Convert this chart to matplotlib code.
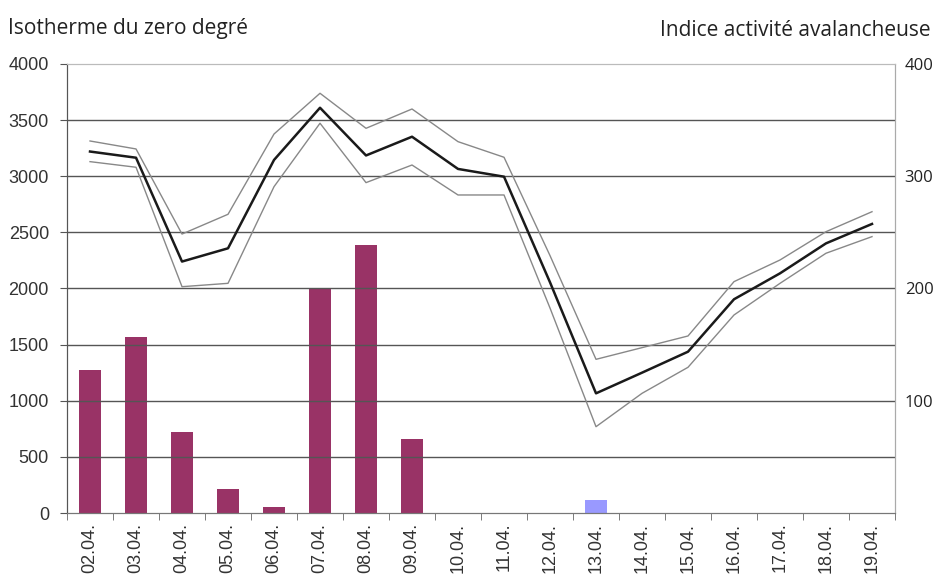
import matplotlib
matplotlib.use("Agg")
import matplotlib.pyplot as plt
import numpy as np

dates = ["02.04.", "03.04.", "04.04.", "05.04.", "06.04.", "07.04.", "08.04.", "09.04.",
         "10.04.", "11.04.", "12.04.", "13.04.", "14.04.", "15.04.", "16.04.", "17.04.",
         "18.04.", "19.04."]

# Isotherme du zéro degré (m) - central, upper and lower estimates
iso_mid = [3220, 3165, 2240, 2358, 3145, 3610, 3185, 3352, 3065, 2996,
           2055, 1066, 1250, 1437, 1904, 2135, 2402, 2575]
iso_high = [3314, 3243, 2485, 2661, 3376, 3739, 3427, 3599, 3308, 3169,
            2293, 1369, 1473, 1577, 2061, 2254, 2506, 2684]
iso_low = [3130, 3080, 2016, 2046, 2907, 3472, 2943, 3100, 2833, 2833,
           1826, 769, 1066, 1298, 1764, 2046, 2314, 2462]

# Indice activité avalancheuse
aval = [127, 157, 72, 21, 5.6, 200, 239, 66, 0, 0, 0, 0, 0, 0, 0, 0, 0, 0]
aval_blue = [0, 0, 0, 0, 0, 0, 0, 0, 0, 0, 0, 11.6, 0, 0, 0, 0, 0, 0]

left_ticks = [0, 500, 1000, 1500, 2000, 2500, 3000, 3500, 4000]
right_ticks = [100, 200, 300, 400]

fig = plt.figure(figsize=(9.36, 5.8), dpi=100)
ax = fig.add_axes([0.0716, 0.1155, 0.8846, 0.7742])
ax2 = ax.twinx()

x = np.arange(len(dates))

# grid
ax.set_ylim(0, 4000)
ax.set_yticks(left_ticks)
for t in left_ticks[1:-1]:
    ax.axhline(t, color="#555555", lw=1.0, zorder=0)

ax.plot(x, iso_high, color="#888888", lw=1.0, zorder=3)
ax.plot(x, iso_low, color="#888888", lw=1.0, zorder=3)
ax.plot(x, iso_mid, color="#1a1a1a", lw=1.8, zorder=4)

ax2.set_ylim(0, 400)
ax2.bar(x, aval, width=0.46, color="#993366", zorder=2)
ax2.bar(x, aval_blue, width=0.46, color="#9999ff", zorder=2)
ax2.set_yticks(right_ticks)
ax2.set_yticklabels([str(v) for v in right_ticks], fontsize=12, family="Open Sans", color="#222222")
ax2.tick_params(axis="y", length=0, pad=7)

ax.set_zorder(ax2.get_zorder() + 1)
ax.patch.set_visible(False)

ax.set_xlim(-0.5, len(dates) - 0.5)
ax.set_xticks(x)
ax.set_xticklabels(dates, rotation=90, fontsize=13, family="Liberation Sans", color="#333333")
ax.set_xticks(np.arange(-0.5, len(dates), 1.0), minor=True)
ax.tick_params(axis="x", which="major", length=0, pad=7)
ax.tick_params(axis="x", which="minor", length=5, color="#666666", direction="out")
ax.set_yticklabels([str(v) for v in left_ticks], fontsize=13, family="Liberation Sans", color="#333333")
ax.tick_params(axis="y", length=5, color="#555555", direction="out", pad=8)

for a in (ax, ax2):
    a.spines["top"].set_color("#bbbbbb")
    a.spines["right"].set_color("#aaaaaa")
    a.spines["left"].set_color("#555555")
    a.spines["bottom"].set_color("#777777")

fig.text(0.009, 0.951, "Isotherme du zero degré", fontsize=15, family="Open Sans",
         color="#222222", ha="left", va="center")
fig.text(0.994, 0.948, "Indice activité avalancheuse", fontsize=15, family="Open Sans",
         color="#222222", ha="right", va="center")

fig.savefig("out.png", dpi=100)
